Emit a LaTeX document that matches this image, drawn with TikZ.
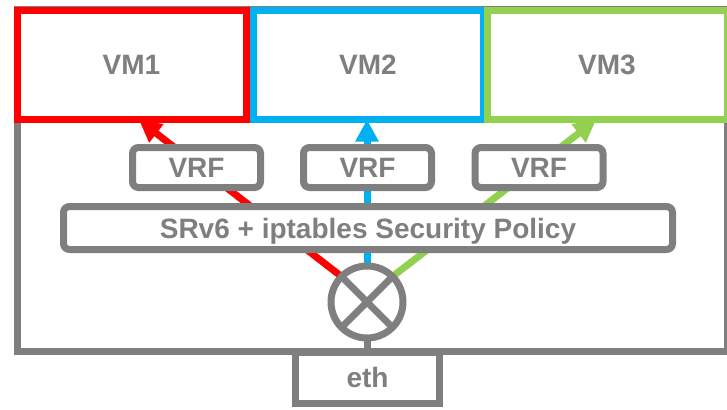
\documentclass[tikz,border=0pt]{standalone}
\usepackage{fontspec}
\setmainfont{Liberation Sans}
\usetikzlibrary{arrows.meta,calc,backgrounds}
\definecolor{cgray}{HTML}{7F7F7F}
\definecolor{cred}{HTML}{FF0000}
\definecolor{cblue}{HTML}{00B0F0}
\definecolor{cgreen}{HTML}{92D050}
\begin{document}
\begin{tikzpicture}[x=1pt,y=-1pt,
  lbl/.style={font=\fontsize{28pt}{30pt}\selectfont\bfseries, text=cgray, text height=20pt, text depth=0pt},
  box/.style={lbl, draw, line width=7pt, fill=white, outer sep=0pt, inner sep=0pt, rectangle},
  vmbox/.style={box, minimum height=109pt},
  graybox/.style={box, draw=cgray, rounded corners=6pt},
  flow/.style={line width=7pt, -{Triangle[width=22pt,length=22pt]}},
]
\useasboundingbox (0,0) rectangle (727,409);
% host frame
\node[draw=cgray, line width=7pt, minimum width=710pt, minimum height=341.5pt, outer sep=0pt, inner sep=0pt] (host) at (372,180.75) {};
% eth
\node[box, draw=cgray, minimum width=144pt, minimum height=51.5pt] (eth) at (367.5,377.75) {eth};
% policy and VRFs
\node[graybox, minimum width=609pt, minimum height=43pt] (pol) at (368,228) {SRv6 + iptables Security Policy};
\node[graybox, minimum width=128pt, minimum height=40pt] (vrf1) at (196.5,167.5) {VRF};
\node[graybox, minimum width=128pt, minimum height=40pt] (vrf2) at (367.5,167.5) {VRF};
\node[graybox, minimum width=128pt, minimum height=40pt] (vrf3) at (539,167.5) {VRF};
% switch
\node[circle, draw=cgray, line width=7pt, fill=white, minimum size=72pt, inner sep=0pt, outer sep=0pt] (cx) at (367,302) {};
\draw[cgray, line width=7pt] (cx.45) -- (cx.225) (cx.135) -- (cx.-45);
\draw[cgray, line width=7pt] (cx.south) -- (cx.south |- host.south);
% VMs
\node[vmbox, draw=cblue, minimum width=230pt] (vm2) at (368,65) {VM2};
\node[vmbox, draw=cred, minimum width=229pt] (vm1) at (131.5,65) {VM1};
\node[vmbox, draw=cgreen, minimum width=240pt] (vm3) at (607,65) {VM3};
\coordinate (t1) at (139,120);
\coordinate (t3) at (596,120);
\begin{pgfonlayer}{background}
\draw[flow, cred] (cx.135) -- (t1);
\draw[flow, cblue] (cx.north) -- (cx.north |- vm2.south);
\draw[flow, cgreen] (cx.45) -- (t3);
\end{pgfonlayer}
\end{tikzpicture}
\end{document}
